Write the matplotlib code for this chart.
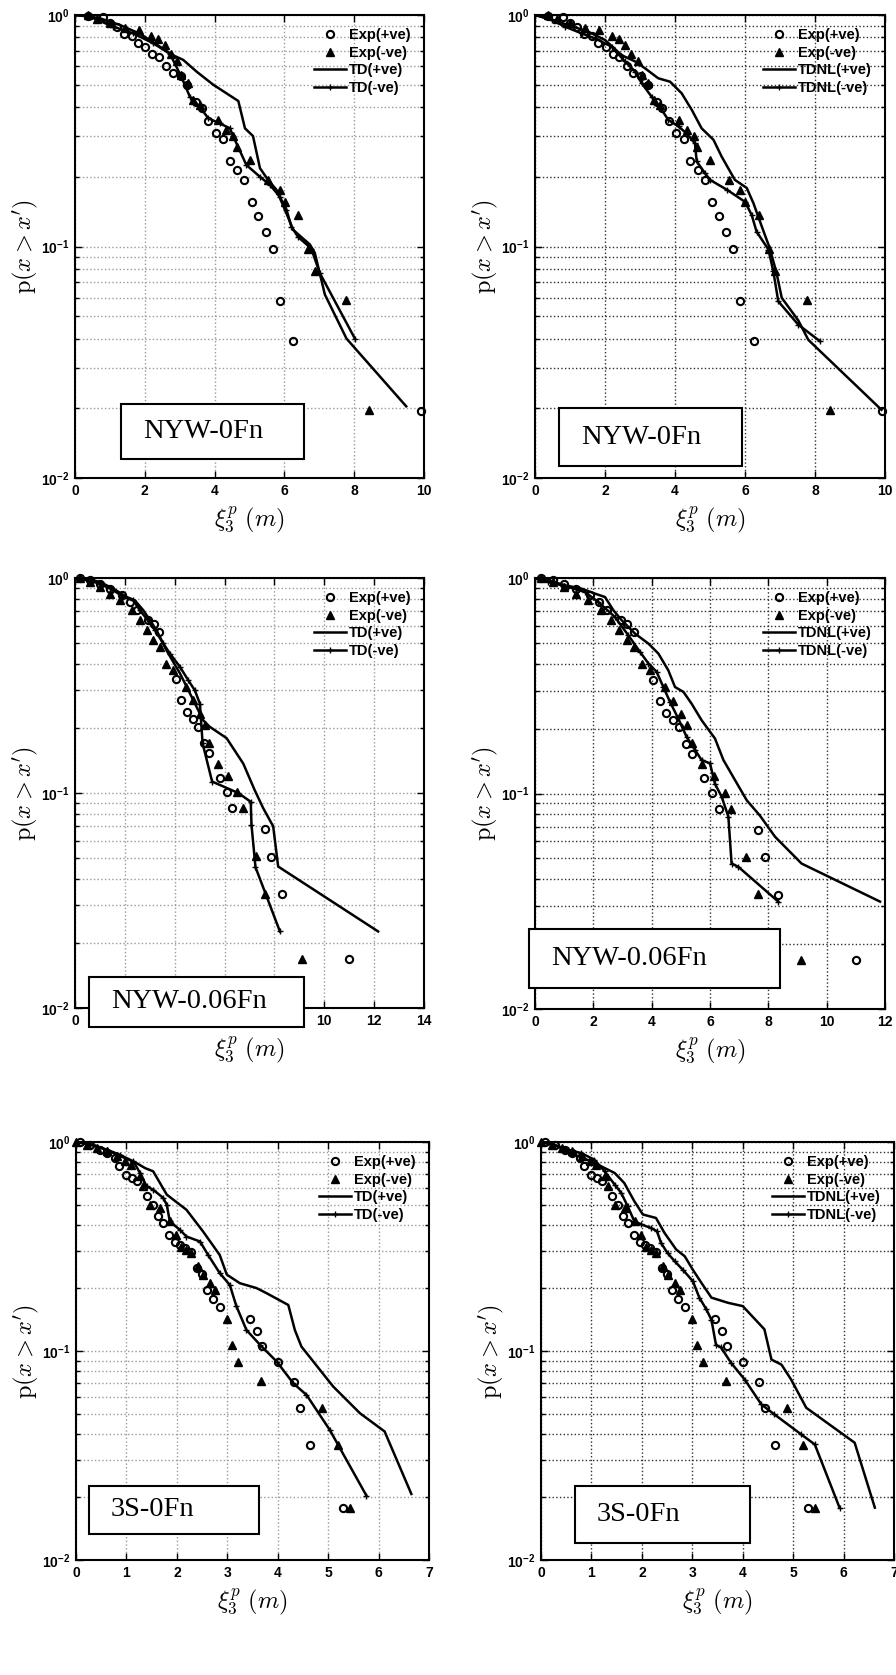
import numpy as np
import matplotlib
matplotlib.use("Agg")
import matplotlib.pyplot as plt
from matplotlib.patches import Rectangle
from matplotlib.ticker import FixedLocator, NullFormatter, FuncFormatter

plt.rcParams['font.family'] = ['Liberation Sans', 'DejaVu Sans']
plt.rcParams['mathtext.fontset'] = 'custom'
plt.rcParams['mathtext.rm'] = 'Liberation Sans:bold'
plt.rcParams['mathtext.it'] = 'Liberation Sans:italic:bold'
plt.rcParams['mathtext.bf'] = 'Liberation Sans:bold'

# ---- experimental exceedance data (x in m, p) ----
exp1_pos = np.array([(0.38, 0.99), (0.81, 0.977), (1.0, 0.927), (1.19, 0.89), (1.40, 0.83),
                     (1.62, 0.81), (1.81, 0.755), (2.02, 0.73), (2.22, 0.68), (2.41, 0.66),
                     (2.62, 0.60), (2.81, 0.56), (3.03, 0.545), (3.22, 0.50), (3.48, 0.42),
                     (3.63, 0.395), (3.82, 0.347), (4.04, 0.31), (4.25, 0.29), (4.44, 0.233),
                     (4.65, 0.214), (4.85, 0.194), (5.06, 0.155), (5.25, 0.136), (5.46, 0.116),
                     (5.66, 0.0975), (5.87, 0.058), (6.25, 0.039), (9.9, 0.0195)])
exp1_neg = np.array([(0.38, 1.0), (0.62, 0.96), (1.0, 0.92), (1.43, 0.88), (1.84, 0.86),
                     (2.19, 0.81), (2.39, 0.79), (2.57, 0.74), (2.74, 0.68), (2.93, 0.63),
                     (3.05, 0.55), (3.24, 0.51), (3.39, 0.43), (3.58, 0.41), (4.10, 0.352),
                     (4.34, 0.32), (4.53, 0.30), (4.63, 0.27), (5.01, 0.237), (5.53, 0.194),
                     (5.87, 0.176), (6.01, 0.156), (6.39, 0.137), (6.68, 0.0975), (6.87, 0.078),
                     (7.76, 0.059), (8.43, 0.0197)])

exp2_pos = np.array([(0.2, 1.0), (0.60, 0.975), (1.0, 0.94), (1.40, 0.892), (1.87, 0.83),
                     (2.20, 0.775), (2.47, 0.708), (2.94, 0.64), (3.17, 0.61), (3.38, 0.561),
                     (4.05, 0.338), (4.27, 0.27), (4.50, 0.237), (4.72, 0.22), (4.94, 0.203),
                     (5.17, 0.17), (5.38, 0.153), (5.81, 0.118), (6.08, 0.101), (6.31, 0.085),
                     (7.64, 0.0678), (7.88, 0.0506), (8.32, 0.0338), (10.99, 0.0169)])
exp2_neg = np.array([(0.2, 1.0), (0.60, 0.958), (1.0, 0.908), (1.40, 0.846), (1.80, 0.787),
                     (2.27, 0.708), (2.60, 0.636), (2.87, 0.572), (3.14, 0.514), (3.41, 0.478),
                     (3.67, 0.40), (3.94, 0.373), (4.47, 0.312), (4.74, 0.27), (5.01, 0.234),
                     (5.21, 0.207), (5.38, 0.171), (5.74, 0.137), (6.14, 0.12), (6.51, 0.101),
                     (6.72, 0.085), (7.25, 0.051), (7.64, 0.034), (9.12, 0.0169)])

exp3_pos = np.array([(0.08, 1.0), (0.28, 0.971), (0.48, 0.919), (0.61, 0.885), (0.77, 0.838),
                     (0.86, 0.77), (0.99, 0.698), (1.12, 0.673), (1.20, 0.648), (1.40, 0.554),
                     (1.53, 0.501), (1.63, 0.444), (1.73, 0.409), (1.85, 0.357), (1.96, 0.334),
                     (2.06, 0.322), (2.17, 0.31), (2.29, 0.299), (2.39, 0.249), (2.49, 0.233),
                     (2.59, 0.196), (2.72, 0.177), (2.85, 0.162), (3.46, 0.142), (3.58, 0.125),
                     (3.69, 0.106), (4.01, 0.089), (4.33, 0.071), (4.44, 0.0532), (4.65, 0.0355),
                     (5.30, 0.0178)])
exp3_neg = np.array([(0.0, 1.0), (0.21, 0.971), (0.41, 0.936), (0.61, 0.902), (0.81, 0.853),
                     (0.97, 0.807), (1.10, 0.778), (1.27, 0.685), (1.33, 0.614), (1.47, 0.501),
                     (1.66, 0.483), (1.86, 0.417), (1.99, 0.36), (2.09, 0.316), (2.19, 0.305),
                     (2.29, 0.294), (2.42, 0.254), (2.52, 0.232), (2.66, 0.211), (2.75, 0.196),
                     (2.99, 0.143), (3.10, 0.107), (3.22, 0.089), (3.66, 0.0715), (4.87, 0.0532),
                     (5.20, 0.0355), (5.43, 0.0178)])

# ---- time-domain simulations ----
td1_pos = np.array([(0, 1.0), (0.33, 0.99), (0.72, 0.967), (1.29, 0.905), (1.86, 0.83),
                    (2.43, 0.73), (2.81, 0.67), (3.10, 0.64), (3.48, 0.57), (3.96, 0.50),
                    (4.68, 0.425), (4.87, 0.324), (5.10, 0.30), (5.30, 0.218), (5.53, 0.194),
                    (5.77, 0.176), (6.06, 0.139), (6.25, 0.118), (6.73, 0.102), (6.87, 0.094),
                    (7.16, 0.062), (7.78, 0.040), (9.49, 0.0204)])
td1_neg = np.array([(0, 1.0), (0.43, 0.983), (1.10, 0.89), (1.67, 0.833), (2.24, 0.755),
                    (2.72, 0.68), (3.05, 0.54), (3.29, 0.444), (3.58, 0.40), (3.82, 0.358),
                    (4.15, 0.34), (4.44, 0.324), (4.53, 0.30), (4.91, 0.225), (5.30, 0.20),
                    (5.58, 0.185), (5.87, 0.164), (6.06, 0.144), (6.20, 0.122), (6.39, 0.110),
                    (6.77, 0.098), (7.01, 0.077), (8.02, 0.040)])
tdnl1_pos = np.array([(0, 1.0), (0.38, 0.967), (0.95, 0.905), (1.52, 0.847), (2.0, 0.78),
                      (2.48, 0.67), (2.86, 0.63), (3.14, 0.589), (3.52, 0.533), (3.86, 0.515),
                      (4.19, 0.459), (4.48, 0.389), (4.76, 0.324), (5.10, 0.289), (5.33, 0.245),
                      (5.71, 0.194), (6.05, 0.179), (6.24, 0.154), (6.48, 0.122), (6.71, 0.098),
                      (6.90, 0.077), (7.05, 0.060), (7.52, 0.048), (7.81, 0.0395), (9.90, 0.0197)])
tdnl1_neg = np.array([(0, 1.0), (0.48, 0.951), (0.86, 0.89), (1.33, 0.833), (1.71, 0.793),
                      (2.19, 0.73), (2.57, 0.63), (2.86, 0.57), (3.05, 0.507), (3.33, 0.444),
                      (3.57, 0.40), (3.81, 0.352), (4.10, 0.33), (4.33, 0.308), (4.57, 0.279),
                      (4.62, 0.233), (4.86, 0.207), (5.0, 0.194), (5.48, 0.176), (6.0, 0.156),
                      (6.19, 0.137), (6.33, 0.116), (6.67, 0.097), (6.81, 0.078), (6.95, 0.058),
                      (7.52, 0.046), (8.14, 0.039)])

td2_pos = np.array([(0, 1.0), (0.47, 0.993), (1.0, 0.958), (1.54, 0.892), (2.07, 0.816),
                    (2.40, 0.787), (2.74, 0.708), (3.27, 0.572), (3.67, 0.461), (4.21, 0.36),
                    (4.68, 0.28), (5.14, 0.218), (5.41, 0.203), (6.08, 0.18), (6.75, 0.137),
                    (7.21, 0.103), (7.55, 0.085), (7.95, 0.070), (8.15, 0.0455), (12.16, 0.0227)])
td2_neg = np.array([(0, 1.0), (0.53, 0.975), (1.0, 0.94), (1.54, 0.877), (1.94, 0.816),
                    (2.34, 0.787), (2.60, 0.708), (2.87, 0.647), (3.21, 0.572), (3.54, 0.496),
                    (3.81, 0.445), (4.21, 0.386), (4.54, 0.335), (4.81, 0.30), (5.01, 0.26),
                    (5.12, 0.17), (5.50, 0.113), (6.55, 0.10), (7.05, 0.091), (7.08, 0.071),
                    (7.24, 0.0452), (8.22, 0.0227)])
tdnl2_pos = np.array([(0, 1.0), (0.46, 0.975), (1.03, 0.925), (1.60, 0.892), (2.06, 0.846),
                      (2.40, 0.816), (2.69, 0.708), (2.97, 0.637), (3.43, 0.552), (3.89, 0.496),
                      (4.23, 0.446), (4.57, 0.373), (4.80, 0.312), (5.09, 0.296), (5.37, 0.261),
                      (5.71, 0.219), (6.17, 0.18), (6.46, 0.143), (6.80, 0.119), (7.26, 0.093),
                      (7.71, 0.079), (8.23, 0.063), (9.14, 0.0473), (11.83, 0.0315)])
tdnl2_neg = np.array([(0, 1.0), (0.46, 0.958), (1.14, 0.909), (1.71, 0.861), (2.17, 0.774),
                      (2.74, 0.659), (3.20, 0.542), (3.60, 0.454), (3.89, 0.401), (4.17, 0.367),
                      (4.40, 0.312), (4.63, 0.266), (4.91, 0.223), (5.20, 0.183), (5.49, 0.159),
                      (5.71, 0.143), (6.0, 0.138), (6.17, 0.111), (6.40, 0.0966), (6.63, 0.078),
                      (6.74, 0.0473), (6.97, 0.0457), (8.34, 0.0315)])

td3_pos = np.array([(0, 1.0), (0.34, 0.971), (0.67, 0.902), (0.97, 0.838), (1.20, 0.793),
                    (1.37, 0.75), (1.53, 0.724), (1.80, 0.56), (2.19, 0.474), (2.52, 0.373),
                    (2.85, 0.288), (2.99, 0.232), (3.25, 0.211), (3.58, 0.20), (3.78, 0.189),
                    (4.21, 0.166), (4.34, 0.126), (4.47, 0.105), (5.10, 0.0676), (5.63, 0.0504),
                    (6.12, 0.0412), (6.65, 0.0207)])
td3_neg = np.array([(0, 1.0), (0.28, 0.971), (0.61, 0.919), (0.87, 0.869), (1.14, 0.807),
                    (1.27, 0.71), (1.40, 0.614), (1.53, 0.591), (1.73, 0.54), (1.80, 0.501),
                    (1.86, 0.417), (2.06, 0.38), (2.19, 0.353), (2.46, 0.334), (2.62, 0.288),
                    (2.85, 0.236), (3.05, 0.207), (3.18, 0.164), (3.38, 0.126), (3.65, 0.107),
                    (3.98, 0.089), (4.31, 0.070), (4.57, 0.0617), (5.03, 0.042), (5.76, 0.0203)])
tdnl3_pos = np.array([(0, 1.0), (0.33, 0.953), (0.66, 0.869), (0.99, 0.809), (1.26, 0.751),
                      (1.46, 0.711), (1.65, 0.637), (1.85, 0.521), (2.02, 0.45), (2.28, 0.433),
                      (2.45, 0.367), (2.68, 0.306), (2.85, 0.284), (3.01, 0.245), (3.18, 0.212),
                      (3.38, 0.18), (3.71, 0.17), (4.0, 0.164), (4.43, 0.127), (4.57, 0.091),
                      (4.77, 0.086), (4.96, 0.073), (5.26, 0.0535), (6.22, 0.0364), (6.62, 0.0178)])
tdnl3_neg = np.array([(0, 1.0), (0.26, 0.971), (0.53, 0.918), (0.79, 0.886), (1.06, 0.823),
                      (1.26, 0.725), (1.46, 0.626), (1.59, 0.571), (1.72, 0.492), (1.85, 0.418),
                      (1.99, 0.403), (2.18, 0.388), (2.30, 0.374), (2.38, 0.329), (2.51, 0.294),
                      (2.65, 0.269), (2.81, 0.245), (3.01, 0.216), (3.14, 0.18), (3.28, 0.158),
                      (3.38, 0.141), (3.47, 0.107), (3.57, 0.104), (3.77, 0.0877), (4.04, 0.073),
                      (4.37, 0.0555), (4.63, 0.0497), (5.16, 0.0399), (5.43, 0.0357), (5.92, 0.0178)])

case_names = ['NYW-0Fn', 'NYW-0.06Fn', '3S-0Fn']

# axes rectangles in pixels (left, top, right, bottom) of a 896x1675 canvas
W, H = 896, 1675
panels = [
    dict(rect=(75, 15, 424, 478), exp=(exp1_pos, exp1_neg), mod=(td1_pos, td1_neg),
         tag='TD', xmax=10, xstep=2, grid='#9a9a9a', box=(121, 404, 304, 459), name=case_names[0]),
    dict(rect=(535, 15, 885, 478), exp=(exp1_pos, exp1_neg), mod=(tdnl1_pos, tdnl1_neg),
         tag='TDNL', xmax=10, xstep=2, grid='#303030', box=(559, 408, 742, 466), name=case_names[0]),
    dict(rect=(75, 578, 424, 1008), exp=(exp2_pos, exp2_neg), mod=(td2_pos, td2_neg),
         tag='TD', xmax=14, xstep=2, grid='#9a9a9a', box=(89, 977, 304, 1027), name=case_names[1]),
    dict(rect=(535, 578, 885, 1009), exp=(exp2_pos, exp2_neg), mod=(tdnl2_pos, tdnl2_neg),
         tag='TDNL', xmax=12, xstep=2, grid='#303030', box=(529, 929, 780, 988), name=case_names[1]),
    dict(rect=(76, 1142, 429, 1560), exp=(exp3_pos, exp3_neg), mod=(td3_pos, td3_neg),
         tag='TD', xmax=7, xstep=1, grid='#9a9a9a', box=(89, 1486, 259, 1534), name=case_names[2]),
    dict(rect=(541, 1142, 894, 1560), exp=(exp3_pos, exp3_neg), mod=(tdnl3_pos, tdnl3_neg),
         tag='TDNL', xmax=7, xstep=1, grid='#303030', box=(575, 1486, 750, 1543), name=case_names[2]),
]

fig = plt.figure(figsize=(W / 100, H / 100), dpi=100)

minor_y = [m * 10.0 ** e for e in (-2, -1) for m in range(2, 10)]

for p in panels:
    l, t, r, b = p['rect']
    ax = fig.add_axes([l / W, 1 - b / H, (r - l) / W, (b - t) / H])
    e_pos, e_neg = p['exp']
    m_pos, m_neg = p['mod']

    ax.plot(e_pos[:, 0], e_pos[:, 1], 'o', mfc='none', mec='k', ms=5.2, mew=1.5,
            label='Exp(+ve)', clip_on=False)
    ax.plot(e_neg[:, 0], e_neg[:, 1], '^', mfc='k', mec='k', ms=5.5, mew=1.0,
            label='Exp(-ve)', clip_on=False)
    ax.plot(m_pos[:, 0], m_pos[:, 1], '-', color='k', lw=1.8, label=p['tag'] + '(+ve)')
    ax.plot(m_neg[:, 0], m_neg[:, 1], '-', color='k', lw=1.8, marker='+', ms=4, mew=1.0,
            label=p['tag'] + '(-ve)')

    ax.set_yscale('log')
    ax.set_ylim(1e-2, 1)
    ax.set_xlim(0, p['xmax'])
    ax.set_xticks(np.arange(0, p['xmax'] + 0.01, p['xstep']))
    ax.xaxis.set_major_formatter(FuncFormatter(lambda v, pos: '%d' % v))
    ax.yaxis.set_major_locator(FixedLocator([1e-2, 1e-1, 1]))
    ax.yaxis.set_minor_locator(FixedLocator(minor_y))
    ax.yaxis.set_minor_formatter(NullFormatter())
    ax.yaxis.set_major_formatter(FuncFormatter(lambda v, pos: r'$10^{%d}$' % round(np.log10(v))))

    ax.tick_params(which='both', direction='in', top=True, right=True, width=1.0)
    ax.tick_params(which='major', length=5, labelsize=10, pad=4)
    ax.tick_params(which='minor', length=3)
    for lbl in ax.get_xticklabels():
        lbl.set_fontweight('bold')

    ax.grid(True, which='major', axis='both', linestyle=':', color=p['grid'], lw=1.0)
    ax.grid(True, which='minor', axis='y', linestyle=':', color=p['grid'], lw=1.0)
    for s in ax.spines.values():
        s.set_linewidth(1.5)

    ax.set_xlabel(r'$\xi_3^p\ (m)$', fontsize=17.5, math_fontfamily='cm', labelpad=5)
    ax.set_ylabel(r"$\mathrm{p}(x > x')$", fontsize=17.5, math_fontfamily='cm', labelpad=1)

    ax.legend(loc='upper right', frameon=False, prop={'weight': 'bold', 'size': 10.5},
              handlelength=2.2, handletextpad=0.2, labelspacing=0.25,
              borderaxespad=0.5, borderpad=0.4)

    # case label box
    bl, bt, br, bb = p['box']
    fig.add_artist(Rectangle((bl / W, 1 - bb / H), (br - bl) / W, (bb - bt) / H,
                             transform=fig.transFigure, facecolor='white',
                             edgecolor='k', lw=1.5, zorder=5))
    fig.text((bl + 22) / W, 1 - (bt + bb) / 2 / H, p['name'], family='Liberation Serif',
             fontsize=20.5, ha='left', va='center', zorder=6)

fig.savefig('out.png', dpi=100)
